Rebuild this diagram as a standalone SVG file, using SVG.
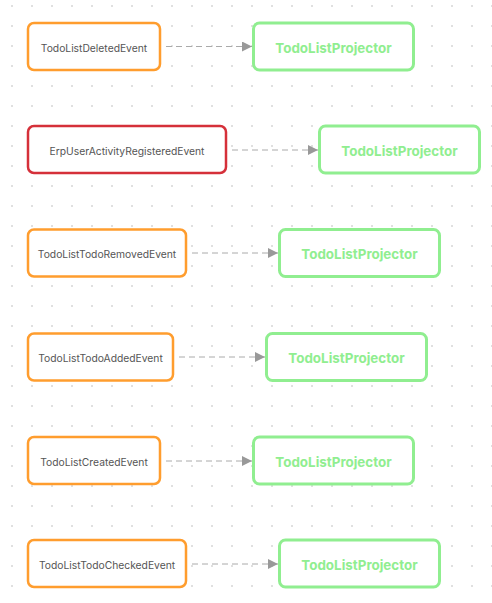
<svg xmlns="http://www.w3.org/2000/svg" width="492" height="603" viewBox="0 0 492 603">
<defs>
<pattern id="dots" x="0" y="0" width="20" height="20" patternUnits="userSpaceOnUse">
<rect x="11.25" y="5.25" width="1.5" height="1.5" fill="#c8c8c8"/>
</pattern>
<marker id="arr" viewBox="0 0 10 10" refX="10" refY="5" markerWidth="10" markerHeight="10" markerUnits="userSpaceOnUse" orient="auto">
<path d="M0,0 L10,5 L0,10 z" fill="#999"/>
</marker>
<style>
.ev{fill:#fff;stroke:#ff9d2e;stroke-width:2.5}
.err{fill:#fff;stroke:#d5303a;stroke-width:2.5}
.pr{fill:#fff;stroke:#90ee90;stroke-width:3}
.et{font-family:Inter,"Liberation Sans",sans-serif;font-size:10.3px;fill:#555;text-anchor:middle;dominant-baseline:central}
.pt{font-family:Inter,"Liberation Sans",sans-serif;font-size:13.4px;font-weight:bold;fill:#90ee90;text-anchor:middle;dominant-baseline:central}
.c{stroke:#aaa;stroke-width:1;stroke-dasharray:6 4;fill:none}
</style>
</defs>
<rect width="492" height="603" fill="#fff"/>
<rect width="492" height="603" fill="url(#dots)"/>
<g id="connectors">
<line class="c" x1="166" y1="46.5" x2="252" y2="46.5" marker-end="url(#arr)"/>
<line class="c" x1="232" y1="150" x2="318" y2="150" marker-end="url(#arr)"/>
<line class="c" x1="192" y1="253" x2="278" y2="253" marker-end="url(#arr)"/>
<line class="c" x1="179" y1="357" x2="265" y2="357" marker-end="url(#arr)"/>
<line class="c" x1="166" y1="461" x2="252" y2="461" marker-end="url(#arr)"/>
<line class="c" x1="192" y1="564" x2="278" y2="564" marker-end="url(#arr)"/>
</g>
<g id="e1"><rect class="ev" x="28" y="23" width="132" height="47" rx="6"/><text class="et" x="94" y="47.5">TodoListDeletedEvent</text></g>
<g id="p1"><rect class="pr" x="253.5" y="23" width="160" height="47" rx="6"/><text class="pt" x="333.5" y="47.5">TodoListProjector</text></g>
<g id="e2"><rect class="err" x="28" y="126" width="198" height="47" rx="6"/><text class="et" x="127" y="150.5">ErpUserActivityRegisteredEvent</text></g>
<g id="p2"><rect class="pr" x="319.5" y="126" width="160" height="47" rx="6"/><text class="pt" x="399.5" y="150.5">TodoListProjector</text></g>
<g id="e3"><rect class="ev" x="28" y="229.5" width="158" height="47" rx="6"/><text class="et" x="107" y="253.5">TodoListTodoRemovedEvent</text></g>
<g id="p3"><rect class="pr" x="279.5" y="229.5" width="160" height="47" rx="6"/><text class="pt" x="359.5" y="253.5">TodoListProjector</text></g>
<g id="e4"><rect class="ev" x="28" y="333.5" width="145" height="47" rx="6"/><text class="et" x="100.5" y="357.5">TodoListTodoAddedEvent</text></g>
<g id="p4"><rect class="pr" x="266.5" y="333.5" width="160" height="47" rx="6"/><text class="pt" x="346.5" y="357.5">TodoListProjector</text></g>
<g id="e5"><rect class="ev" x="28" y="437" width="132" height="47" rx="6"/><text class="et" x="94" y="461.5">TodoListCreatedEvent</text></g>
<g id="p5"><rect class="pr" x="253.5" y="437" width="160" height="47" rx="6"/><text class="pt" x="333.5" y="461.5">TodoListProjector</text></g>
<g id="e6"><rect class="ev" x="28" y="540" width="158" height="47" rx="6"/><text class="et" x="107" y="564.5">TodoListTodoCheckedEvent</text></g>
<g id="p6"><rect class="pr" x="279.5" y="540" width="160" height="47" rx="6"/><text class="pt" x="359.5" y="564.5">TodoListProjector</text></g>
</svg>
